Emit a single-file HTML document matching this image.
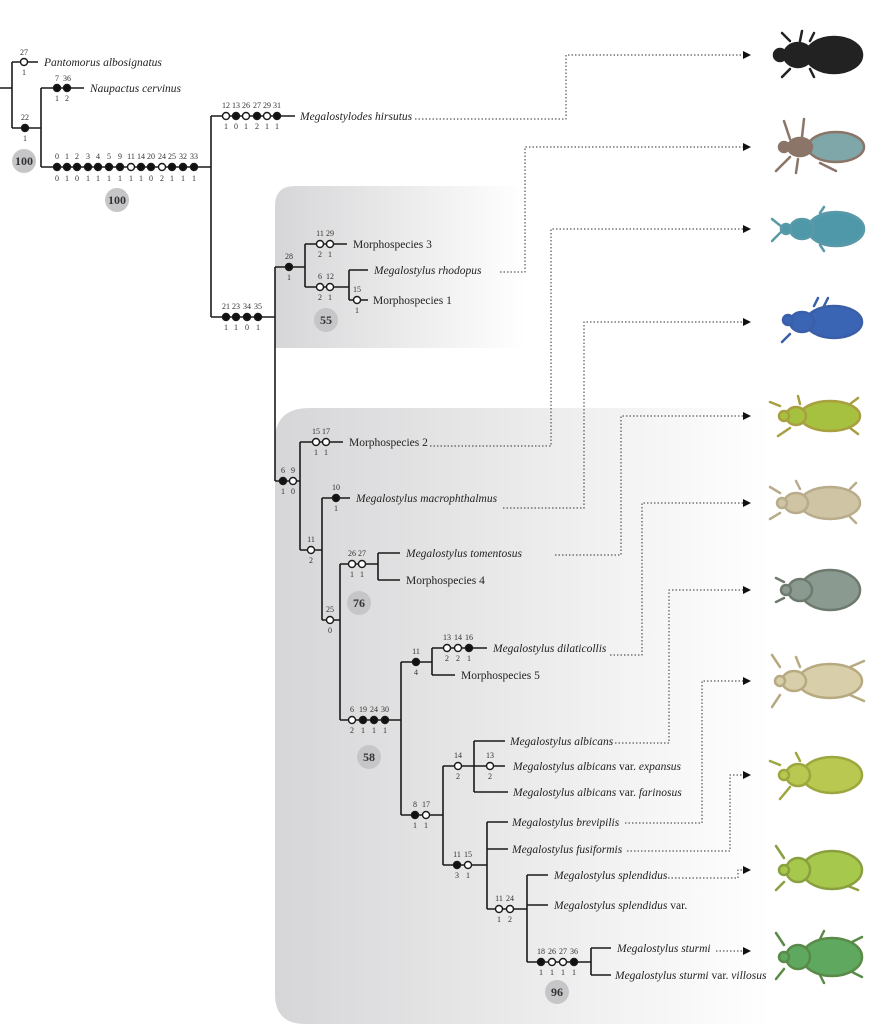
<!DOCTYPE html>
<html><head><meta charset="utf-8"><style>
html,body{margin:0;padding:0;background:#fff}
svg{display:block}
text{font-family:"Liberation Serif",serif;fill:#222}
.n{font-size:8px;text-anchor:middle;fill:#333}
.t{font-size:11.5px}
.i{font-style:italic}
.b{font-size:12px;font-weight:bold;text-anchor:middle;fill:#333}
</style></head><body>
<svg width="881" height="1024" viewBox="0 0 881 1024" xmlns="http://www.w3.org/2000/svg">
<defs>
<linearGradient id="g" x1="0" x2="1" y1="0" y2="0"><stop offset="0" stop-color="#d6d6d8"/><stop offset="1" stop-color="#ffffff"/></linearGradient>
<marker id="a" markerWidth="8" markerHeight="8" refX="7" refY="4" orient="auto" markerUnits="userSpaceOnUse"><path d="M0,0 L8,4 L0,8z" fill="#111"/></marker>
</defs>
<path d="M295,186 H525 V348 H275 V206 Q275,186 295,186Z" fill="url(#g)"/>
<path d="M310,408 H770 V1024 H305 Q275,1024 275,994 V440 Q275,408 310,408Z" fill="url(#g)"/>

<g stroke="#1a1a1a" stroke-width="1.6" fill="none">
<path d="M0,88H12M12,62V128M12,62H38M12,128H41M41,88V167M41,88H84M41,167H211"/>
<path d="M211,116V317M211,116H295M211,317H275M275,267V481"/>
<path d="M275,267H305M305,244V287M305,244H347M305,287H349M349,270V300M349,270H368M349,300H368"/>
<path d="M275,481H300M300,442V550M300,442H343M300,550H322M322,498V620M322,498H350M322,620H340M340,564V720M340,564H378M378,553V580M378,553H400M378,580H400"/>
<path d="M340,720H401M401,662V815M401,662H432M432,648V675M432,648H487M432,675H455"/>
<path d="M401,815H443M443,766V865M443,766H505M474,741V792M474,741H505M474,792H508"/>
<path d="M443,865H487M487,822V909M487,822H508M487,849H508M487,909H527M527,875V962M527,875H548M527,905H548M527,962H591M591,948V975M591,948H611M591,975H611"/>
</g>

<g stroke="#333" stroke-width="1" stroke-dasharray="1.5,2" fill="none" marker-end="url(#a)">
<path d="M415,119H566V55H750"/>
<path d="M500,272H525V147H750"/>
<path d="M430,446H551V229H750"/>
<path d="M503,508H584V322H750"/>
<path d="M555,555H621V416H750"/>
<path d="M610,655H642V503H750"/>
<path d="M615,743H669V590H750"/>
<path d="M625,823H702V681H750"/>
<path d="M627,851H730V775H750"/>
<path d="M668,878H738V870H750"/>
<path d="M716,951H750"/>
</g>

<g stroke="#1a1a1a" stroke-width="1.4">
<circle cx="24" cy="62" r="3.5" fill="#fff"/>
<circle cx="25" cy="128" r="3.5" fill="#111"/>
<circle cx="57" cy="88" r="3.5" fill="#111"/><circle cx="67" cy="88" r="3.5" fill="#111"/>
<circle cx="57" cy="167" r="3.5" fill="#111"/><circle cx="67" cy="167" r="3.5" fill="#111"/><circle cx="77" cy="167" r="3.5" fill="#111"/><circle cx="88" cy="167" r="3.5" fill="#111"/><circle cx="98" cy="167" r="3.5" fill="#111"/><circle cx="109" cy="167" r="3.5" fill="#111"/><circle cx="120" cy="167" r="3.5" fill="#111"/><circle cx="131" cy="167" r="3.5" fill="#fff"/><circle cx="141" cy="167" r="3.5" fill="#111"/><circle cx="151" cy="167" r="3.5" fill="#111"/><circle cx="162" cy="167" r="3.5" fill="#fff"/><circle cx="172" cy="167" r="3.5" fill="#111"/><circle cx="183" cy="167" r="3.5" fill="#111"/><circle cx="194" cy="167" r="3.5" fill="#111"/>
<circle cx="226" cy="116" r="3.5" fill="#fff"/><circle cx="236" cy="116" r="3.5" fill="#111"/><circle cx="246" cy="116" r="3.5" fill="#fff"/><circle cx="257" cy="116" r="3.5" fill="#111"/><circle cx="267" cy="116" r="3.5" fill="#fff"/><circle cx="277" cy="116" r="3.5" fill="#111"/>
<circle cx="226" cy="317" r="3.5" fill="#111"/><circle cx="236" cy="317" r="3.5" fill="#111"/><circle cx="247" cy="317" r="3.5" fill="#111"/><circle cx="258" cy="317" r="3.5" fill="#111"/>
<circle cx="289" cy="267" r="3.5" fill="#111"/>
<circle cx="320" cy="244" r="3.5" fill="#fff"/><circle cx="330" cy="244" r="3.5" fill="#fff"/>
<circle cx="320" cy="287" r="3.5" fill="#fff"/><circle cx="330" cy="287" r="3.5" fill="#fff"/>
<circle cx="357" cy="300" r="3.5" fill="#fff"/>
<circle cx="283" cy="481" r="3.5" fill="#111"/><circle cx="293" cy="481" r="3.5" fill="#fff"/>
<circle cx="316" cy="442" r="3.5" fill="#fff"/><circle cx="326" cy="442" r="3.5" fill="#fff"/>
<circle cx="311" cy="550" r="3.5" fill="#fff"/>
<circle cx="336" cy="498" r="3.5" fill="#111"/>
<circle cx="330" cy="620" r="3.5" fill="#fff"/>
<circle cx="352" cy="564" r="3.5" fill="#fff"/><circle cx="362" cy="564" r="3.5" fill="#fff"/>
<circle cx="352" cy="720" r="3.5" fill="#fff"/><circle cx="363" cy="720" r="3.5" fill="#111"/><circle cx="374" cy="720" r="3.5" fill="#111"/><circle cx="385" cy="720" r="3.5" fill="#111"/>
<circle cx="416" cy="662" r="3.5" fill="#111"/>
<circle cx="447" cy="648" r="3.5" fill="#fff"/><circle cx="458" cy="648" r="3.5" fill="#fff"/><circle cx="469" cy="648" r="3.5" fill="#111"/>
<circle cx="415" cy="815" r="3.5" fill="#111"/><circle cx="426" cy="815" r="3.5" fill="#fff"/>
<circle cx="458" cy="766" r="3.5" fill="#fff"/><circle cx="490" cy="766" r="3.5" fill="#fff"/>
<circle cx="457" cy="865" r="3.5" fill="#111"/><circle cx="468" cy="865" r="3.5" fill="#fff"/>
<circle cx="499" cy="909" r="3.5" fill="#fff"/><circle cx="510" cy="909" r="3.5" fill="#fff"/>
<circle cx="541" cy="962" r="3.5" fill="#111"/><circle cx="552" cy="962" r="3.5" fill="#fff"/><circle cx="563" cy="962" r="3.5" fill="#fff"/><circle cx="574" cy="962" r="3.5" fill="#111"/>
</g>

<g fill="#c6c6c8">
<circle cx="24" cy="161" r="12"/><circle cx="117" cy="200" r="12"/><circle cx="326" cy="320" r="12"/><circle cx="359" cy="603" r="12"/><circle cx="369" cy="757" r="12"/><circle cx="557" cy="992" r="12"/>
</g>
<g class="b"><text class="b" x="24" y="165">100</text><text class="b" x="117" y="204">100</text><text class="b" x="326" y="324">55</text><text class="b" x="359" y="607">76</text><text class="b" x="369" y="761">58</text><text class="b" x="557" y="996">96</text></g>

<g>
<text class="n" x="24" y="55">27</text><text class="n" x="24" y="75">1</text>
<text class="n" x="25" y="120">22</text><text class="n" x="25" y="141">1</text>
<text class="n" x="57" y="81">7</text><text class="n" x="67" y="81">36</text><text class="n" x="57" y="101">1</text><text class="n" x="67" y="101">2</text>
<text class="n" x="57" y="159">0</text><text class="n" x="67" y="159">1</text><text class="n" x="77" y="159">2</text><text class="n" x="88" y="159">3</text><text class="n" x="98" y="159">4</text><text class="n" x="109" y="159">5</text><text class="n" x="120" y="159">9</text><text class="n" x="131" y="159">11</text><text class="n" x="141" y="159">14</text><text class="n" x="151" y="159">20</text><text class="n" x="162" y="159">24</text><text class="n" x="172" y="159">25</text><text class="n" x="183" y="159">32</text><text class="n" x="194" y="159">33</text>
<text class="n" x="57" y="181">0</text><text class="n" x="67" y="181">1</text><text class="n" x="77" y="181">0</text><text class="n" x="88" y="181">1</text><text class="n" x="98" y="181">1</text><text class="n" x="109" y="181">1</text><text class="n" x="120" y="181">1</text><text class="n" x="131" y="181">1</text><text class="n" x="141" y="181">1</text><text class="n" x="151" y="181">0</text><text class="n" x="162" y="181">2</text><text class="n" x="172" y="181">1</text><text class="n" x="183" y="181">1</text><text class="n" x="194" y="181">1</text>
<text class="n" x="226" y="108">12</text><text class="n" x="236" y="108">13</text><text class="n" x="246" y="108">26</text><text class="n" x="257" y="108">27</text><text class="n" x="267" y="108">29</text><text class="n" x="277" y="108">31</text>
<text class="n" x="226" y="129">1</text><text class="n" x="236" y="129">0</text><text class="n" x="246" y="129">1</text><text class="n" x="257" y="129">2</text><text class="n" x="267" y="129">1</text><text class="n" x="277" y="129">1</text>
<text class="n" x="226" y="309">21</text><text class="n" x="236" y="309">23</text><text class="n" x="247" y="309">34</text><text class="n" x="258" y="309">35</text>
<text class="n" x="226" y="330">1</text><text class="n" x="236" y="330">1</text><text class="n" x="247" y="330">0</text><text class="n" x="258" y="330">1</text>
<text class="n" x="289" y="259">28</text><text class="n" x="289" y="280">1</text>
<text class="n" x="320" y="236">11</text><text class="n" x="330" y="236">29</text><text class="n" x="320" y="257">2</text><text class="n" x="330" y="257">1</text>
<text class="n" x="320" y="279">6</text><text class="n" x="330" y="279">12</text><text class="n" x="320" y="300">2</text><text class="n" x="330" y="300">1</text>
<text class="n" x="357" y="292">15</text><text class="n" x="357" y="313">1</text>
<text class="n" x="283" y="473">6</text><text class="n" x="293" y="473">9</text><text class="n" x="283" y="494">1</text><text class="n" x="293" y="494">0</text>
<text class="n" x="316" y="434">15</text><text class="n" x="326" y="434">17</text><text class="n" x="316" y="455">1</text><text class="n" x="326" y="455">1</text>
<text class="n" x="311" y="542">11</text><text class="n" x="311" y="563">2</text>
<text class="n" x="336" y="490">10</text><text class="n" x="336" y="511">1</text>
<text class="n" x="330" y="612">25</text><text class="n" x="330" y="633">0</text>
<text class="n" x="352" y="556">26</text><text class="n" x="362" y="556">27</text><text class="n" x="352" y="577">1</text><text class="n" x="362" y="577">1</text>
<text class="n" x="352" y="712">6</text><text class="n" x="363" y="712">19</text><text class="n" x="374" y="712">24</text><text class="n" x="385" y="712">30</text>
<text class="n" x="352" y="733">2</text><text class="n" x="363" y="733">1</text><text class="n" x="374" y="733">1</text><text class="n" x="385" y="733">1</text>
<text class="n" x="416" y="654">11</text><text class="n" x="416" y="675">4</text>
<text class="n" x="447" y="640">13</text><text class="n" x="458" y="640">14</text><text class="n" x="469" y="640">16</text><text class="n" x="447" y="661">2</text><text class="n" x="458" y="661">2</text><text class="n" x="469" y="661">1</text>
<text class="n" x="415" y="807">8</text><text class="n" x="426" y="807">17</text><text class="n" x="415" y="828">1</text><text class="n" x="426" y="828">1</text>
<text class="n" x="458" y="758">14</text><text class="n" x="458" y="779">2</text><text class="n" x="490" y="758">13</text><text class="n" x="490" y="779">2</text>
<text class="n" x="457" y="857">11</text><text class="n" x="468" y="857">15</text><text class="n" x="457" y="878">3</text><text class="n" x="468" y="878">1</text>
<text class="n" x="499" y="901">11</text><text class="n" x="510" y="901">24</text><text class="n" x="499" y="922">1</text><text class="n" x="510" y="922">2</text>
<text class="n" x="541" y="954">18</text><text class="n" x="552" y="954">26</text><text class="n" x="563" y="954">27</text><text class="n" x="574" y="954">36</text>
<text class="n" x="541" y="975">1</text><text class="n" x="552" y="975">1</text><text class="n" x="563" y="975">1</text><text class="n" x="574" y="975">1</text>
</g>

<g class="t">
<text class="t i" x="44" y="66">Pantomorus albosignatus</text>
<text class="t i" x="90" y="92">Naupactus cervinus</text>
<text class="t i" x="300" y="120">Megalostylodes hirsutus</text>
<text class="t" x="353" y="248">Morphospecies 3</text>
<text class="t i" x="374" y="274">Megalostylus rhodopus</text>
<text class="t" x="373" y="304">Morphospecies 1</text>
<text class="t" x="349" y="446">Morphospecies 2</text>
<text class="t i" x="356" y="502">Megalostylus macrophthalmus</text>
<text class="t i" x="406" y="557">Megalostylus tomentosus</text>
<text class="t" x="406" y="584">Morphospecies 4</text>
<text class="t i" x="493" y="652">Megalostylus dilaticollis</text>
<text class="t" x="461" y="679">Morphospecies 5</text>
<text class="t i" x="510" y="745">Megalostylus albicans</text>
<text class="t" x="513" y="770"><tspan class="i">Megalostylus albicans</tspan> var. <tspan class="i">expansus</tspan></text>
<text class="t" x="513" y="796"><tspan class="i">Megalostylus albicans</tspan> var. <tspan class="i">farinosus</tspan></text>
<text class="t i" x="512" y="826">Megalostylus brevipilis</text>
<text class="t i" x="512" y="853">Megalostylus fusiformis</text>
<text class="t i" x="554" y="879">Megalostylus splendidus</text>
<text class="t" x="554" y="909"><tspan class="i">Megalostylus splendidus</tspan> var.</text>
<text class="t i" x="617" y="952">Megalostylus sturmi</text>
<text class="t" x="615" y="979"><tspan class="i">Megalostylus sturmi</tspan> var. <tspan class="i">villosus</tspan></text>
</g>

<g stroke-width="2.5" stroke-linecap="round">
<g transform="translate(820,55)" stroke="#222" fill="#222"><path d="M-30,-14l-8,-8M-20,-14l2,-10M-10,-14l4,-8M-30,14l-8,8M-10,14l4,8" fill="none"/><ellipse cx="14" cy="0" rx="28" ry="18"/><ellipse cx="-22" cy="0" rx="14" ry="12"/><circle cx="-40" cy="0" r="6"/></g>
<g transform="translate(820,147)" stroke="#8a7568" fill="#7fa6a8"><path d="M-30,-8l-6,-18M-18,-10l2,-18M-30,10l-14,14M-22,12l-2,14M0,16l16,8" fill="none"/><ellipse cx="16" cy="0" rx="28" ry="15"/><ellipse cx="-20" cy="0" rx="12" ry="9" fill="#8a7568"/><circle cx="-36" cy="0" r="5" fill="#8a7568"/></g>
<g transform="translate(820,229)" stroke="#5a9aa8" fill="#4e98aa"><path d="M-38,-2l-10,-8M-38,2l-10,10M0,-16l4,-6M0,16l4,6" fill="none"/><ellipse cx="16" cy="0" rx="28" ry="17"/><ellipse cx="-18" cy="0" rx="12" ry="10"/><circle cx="-34" cy="0" r="5"/></g>
<g transform="translate(820,322)" stroke="#3a5fa8" fill="#3a64b4"><path d="M-6,-16l4,-8M4,-16l4,-8M-30,12l-8,8" fill="none"/><ellipse cx="14" cy="0" rx="28" ry="16"/><ellipse cx="-18" cy="0" rx="12" ry="10"/><circle cx="-32" cy="-2" r="5"/></g>
<g transform="translate(820,416)" stroke="#a8a040" fill="#a6c040"><path d="M-40,-10l-10,-4M-30,12l-12,8M-20,-12l-2,-8M30,-12l8,-6M30,12l8,6" fill="none"/><ellipse cx="10" cy="0" rx="30" ry="15"/><ellipse cx="-24" cy="0" rx="10" ry="9"/><circle cx="-36" cy="0" r="5"/></g>
<g transform="translate(820,503)" stroke="#b8ac8c" fill="#cfc4a4"><path d="M-40,-10l-10,-6M-40,10l-10,6M-20,-14l-4,-8M30,14l6,6M30,-14l6,-6" fill="none"/><ellipse cx="10" cy="0" rx="30" ry="16"/><ellipse cx="-24" cy="0" rx="12" ry="10"/><circle cx="-38" cy="0" r="5"/></g>
<g transform="translate(820,590)" stroke="#6e7a6e" fill="#8b9a90"><path d="M-36,-8l-8,-4M-36,8l-8,4" fill="none"/><ellipse cx="10" cy="0" rx="30" ry="20"/><ellipse cx="-20" cy="0" rx="12" ry="11"/><circle cx="-34" cy="0" r="5"/></g>
<g transform="translate(820,681)" stroke="#b8aa80" fill="#d8ceaa"><path d="M-40,-14l-8,-12M-40,14l-8,12M-20,-14l-4,-10M30,-14l14,-6M30,14l14,6" fill="none"/><ellipse cx="10" cy="0" rx="32" ry="17"/><ellipse cx="-26" cy="0" rx="12" ry="10"/><circle cx="-40" cy="0" r="5"/></g>
<g transform="translate(820,775)" stroke="#9ea640" fill="#b8c850"><path d="M-40,-10l-10,-4M-30,12l-10,12M-20,-14l-4,-8" fill="none"/><ellipse cx="12" cy="0" rx="30" ry="18"/><ellipse cx="-22" cy="0" rx="12" ry="11"/><circle cx="-36" cy="0" r="5"/></g>
<g transform="translate(820,870)" stroke="#8aa040" fill="#a6c84c"><path d="M-36,-12l-8,-12M-36,12l-8,8M28,16l10,4" fill="none"/><ellipse cx="12" cy="0" rx="30" ry="19"/><ellipse cx="-22" cy="0" rx="12" ry="12"/><circle cx="-36" cy="0" r="5"/></g>
<g transform="translate(820,957)" stroke="#5a8a48" fill="#5fa860"><path d="M-36,-12l-8,-12M-36,12l-8,10M0,-18l4,-8M0,18l4,8M30,-14l12,-6M30,14l12,6" fill="none"/><ellipse cx="12" cy="0" rx="30" ry="19"/><ellipse cx="-22" cy="0" rx="12" ry="12"/><circle cx="-36" cy="0" r="5"/></g>
</g>
</svg>
</body></html>
